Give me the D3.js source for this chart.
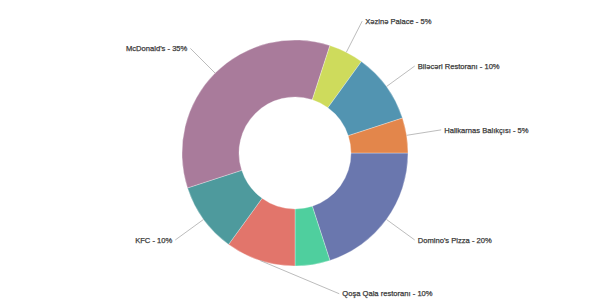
<!DOCTYPE html>
<html>
<head>
<meta charset="utf-8">
<script src="https://cdn.jsdelivr.net/npm/d3@7"></script>
<style>
  body { margin: 0; background: #fff; }
  #chart-area { width: 590px; height: 306px; }
</style>
</head>
<body>
<div id="chart-area"></div>
<script>
// slices, clockwise from 3 o'clock
const names = ["Domino's Pizza", "", "Qoşa Qala restoranı", "KFC", "McDonald's", "Xəzinə Palace", "Biləcəri Restoranı", "Halikarnas Balıkçısı"];
const shares = [20, 5, 10, 10, 35, 5, 10, 5];
const colors = ["#6a77ae", "#4fcf9e", "#e2756b", "#4e9a9d", "#a97b9b", "#cedb5c", "#5294b1", "#e3864b"];

const width = 590,
  height = 306;
const cx = 295,
  cy = 153;
const outerR = 113,
  innerR = 56,
  labelR = 148;

// nudges for labels that would collide
const labelShift = { "Qoşa Qala restoranı": [90, 0] };

const svg = d3
  .select("#chart-area")
  .append("svg")
  .attr("width", width)
  .attr("height", height);

const g = svg.append("g").attr("transform", "translate(" + cx + "," + cy + ")");

const data = names.map((n, i) => ({ name: n, value: shares[i], color: colors[i] }));

const pie = d3
  .pie()
  .sort(null)
  .value(d => d.value)
  .startAngle(Math.PI / 2)
  .endAngle(Math.PI / 2 + 2 * Math.PI);

const arc = d3.arc().innerRadius(innerR).outerRadius(outerR);
const arcs = pie(data);

g.selectAll("path.slice")
  .data(arcs)
  .enter()
  .append("path")
  .attr("class", "slice")
  .attr("d", arc)
  .attr("fill", d => d.data.color)
  .attr("stroke", "rgba(255,255,255,0.5)")
  .attr("stroke-width", 0.6);

const point = (a, r) => [Math.sin(a) * r, -Math.cos(a) * r];

const labelled = arcs.filter(d => d.data.name !== "");

const labels = g
  .selectAll("g.label")
  .data(labelled)
  .enter()
  .append("g")
  .attr("class", "label");

labels.each(function(d) {
  const mid = (d.startAngle + d.endAngle) / 2;
  const start = point(mid, outerR);
  let end = point(mid, labelR);
  const shift = labelShift[d.data.name];
  if (shift) end = [end[0] + shift[0], end[1] + shift[1]];
  const right = end[0] >= 0;
  const sel = d3.select(this);
  sel
    .append("line")
    .attr("x1", start[0])
    .attr("y1", start[1])
    .attr("x2", end[0])
    .attr("y2", end[1])
    .attr("stroke", "#b4b4b4")
    .attr("stroke-width", 0.9);
  sel
    .append("text")
    .attr("x", end[0] + (right ? 3 : -3))
    .attr("y", end[1])
    .attr("dy", "0.35em")
    .attr("text-anchor", right ? "start" : "end")
    .attr("font-family", "'Liberation Sans', Arial, sans-serif")
    .attr("font-size", "7.6px")
    .attr("fill", "#3a3a3a")
    .attr("stroke", "#3a3a3a")
    .attr("stroke-width", 0.25)
    .text(d.data.name + " - " + d.data.value + "%");
});
</script>
</body>
</html>
